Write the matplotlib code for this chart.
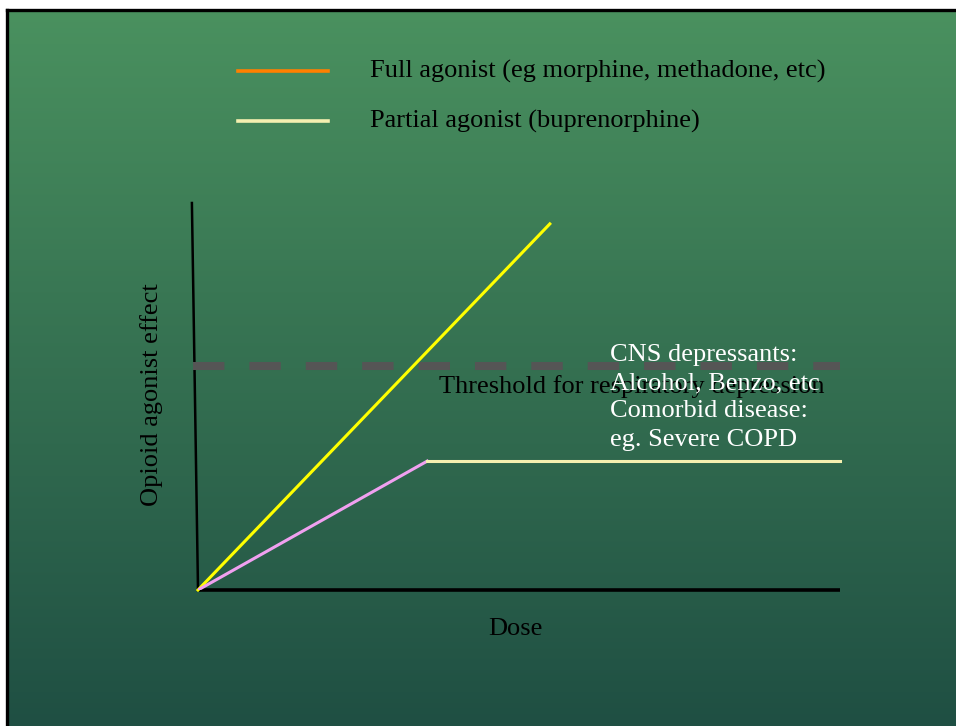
import numpy as np
import matplotlib.pyplot as plt

# series values (dose vs opioid agonist effect, arbitrary units 0-100)
full_dose = [0, 54.8]
full_effect = [0, 94.6]
partial_dose = [0, 35.7]
partial_effect = [0, 33.3]
ceiling_dose = [35.7, 100]
ceiling_effect = [33.3, 33.3]
threshold = 57.9

legend_labels = ["Full agonist (eg morphine, methadone, etc)",
                 "Partial agonist (buprenorphine)"]
legend_colors = ["#ff8000", "#f5f0b0"]
note_lines = ["CNS depressants:", "Alcohol, Benzo, etc",
              "Comorbid disease:", "eg. Severe COPD"]

W, H = 956, 726
FS = 19
plt.rcParams['font.family'] = ['Liberation Serif', 'DejaVu Serif']

fig = plt.figure(figsize=(W / 100, H / 100), dpi=100, facecolor="white")

# slide background with vertical green gradient
bg = fig.add_axes([7 / W, 0, (W - 7) / W, (H - 10) / H])
top = np.array([0x4a, 0x91, 0x5f]) / 255
bot = np.array([0x1f, 0x4f, 0x43]) / 255
t = np.linspace(0, 1, 256)[:, None]
grad = (top * (1 - t) + bot * t)[:, None, :]
bg.imshow(grad, aspect="auto", extent=[0, 1, 0, 1])
bg.set_xticks([])
bg.set_yticks([])
for s in ["right", "bottom"]:
    bg.spines[s].set_visible(False)
for s in ["top", "left"]:
    bg.spines[s].set_linewidth(2.4)
    bg.spines[s].set_color("black")

# chart axes
ax = fig.add_axes([198 / W, 1 - 590 / H, 642 / W, 387 / H])
ax.set_xlim(0, 100)
ax.set_ylim(0, 100)
ax.axis("off")
ax.patch.set_alpha(0)

# axis lines
ax.plot([0, 100], [0, 0], color="black", lw=2.6, clip_on=False, solid_capstyle="butt")
ax.plot([0, -0.95], [0, 100], color="black", lw=1.8, clip_on=False)

# threshold
ax.plot([-0.8, 100], [threshold, threshold], color="#555555", lw=5.8,
        dashes=(3.9, 3.1), clip_on=False, zorder=2)

ax.plot(full_dose, full_effect, color="#ffff00", lw=2.2, zorder=3, clip_on=False)
ax.plot(partial_dose, partial_effect, color="#f0a0f0", lw=2.2, zorder=3)
ax.plot(ceiling_dose, ceiling_effect, color="#f5f0b0", lw=2.2, zorder=3, clip_on=False)

ax.text(67.6, threshold - 5.3, "Threshold for respiratory depression",
        fontsize=FS, color="black", ha="center", va="center", zorder=4)
ax.text(64.2, 63.5, "\n".join(note_lines), fontsize=FS,
        color="white", ha="left", va="top", linespacing=1.36, zorder=5)

ax.text(49.5, -10.0, "Dose", fontsize=FS, ha="center", va="center")
ax.text(-7.2, 50.4, "Opioid agonist effect", fontsize=FS, rotation=90,
        ha="center", va="center")

# legend drawn by hand at top
for i, (lab, col) in enumerate(zip(legend_labels, legend_colors)):
    y = 1 - (71 + 50 * i) / H
    fig.add_artist(plt.Line2D([238 / W, 328 / W], [y, y], color=col, lw=2.6))
    fig.text(370 / W, y, lab, fontsize=FS, ha="left", va="center")

fig.savefig("out.png", dpi=100)
